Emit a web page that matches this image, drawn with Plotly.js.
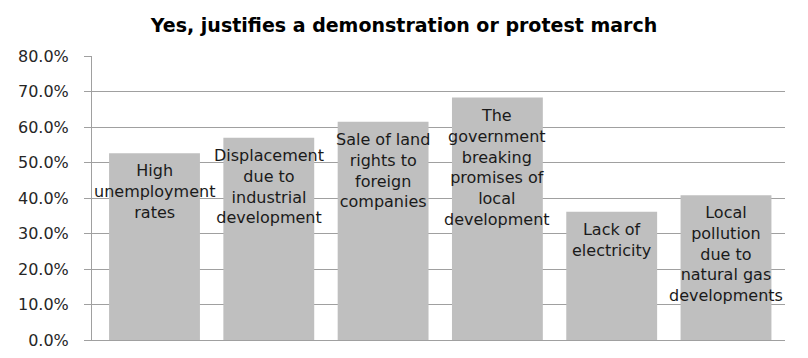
<!DOCTYPE html>
<html>
<head>
<meta charset="utf-8">
<script src="https://cdn.plot.ly/plotly-3.0.1.min.js"></script>
<style>html,body{margin:0;padding:0;background:#fff;}#chart{width:808px;height:358px;}</style>
</head>
<body>
<div id="chart"></div>
<script>
var categories = ["High unemployment rates", "Displacement due to industrial development", "Sale of land rights to foreign companies", "The government breaking promises of local development", "Lack of electricity", "Local pollution due to natural gas developments"];
var labels = ["High<br>unemployment<br>rates", "Displacement<br>due to<br>industrial<br>development", "Sale of land<br>rights to<br>foreign<br>companies", "The<br>government<br>breaking<br>promises of<br>local<br>development", "Lack of<br>electricity", "Local<br>pollution<br>due to<br>natural gas<br>developments"];
var values = [0.526, 0.570, 0.615, 0.683, 0.361, 0.408];
var titleText = "Yes, justifies a demonstration or protest march";

var FONT = "DejaVu Sans";
var annotations = categories.map(function (c, i) {
  return {
    x: c, y: values[i], xref: "x", yref: "y",
    text: labels[i], showarrow: false,
    xanchor: "center", yanchor: "top", yshift: -6,
    font: {family: FONT, size: 16, color: "#1a1a1a"}
  };
});

var data = [{
  type: "bar",
  x: categories,
  y: values,
  marker: {color: "#BFBFBF", line: {width: 0}},
  hoverinfo: "x+y"
}];

var layout = {
  width: 808, height: 358,
  margin: {l: 92, r: 23, t: 56, b: 18, pad: 0},
  paper_bgcolor: "#ffffff", plot_bgcolor: "#ffffff",
  bargap: 0.205,
  showlegend: false,
  title: {
    text: "<b>" + titleText + "</b>",
    font: {family: FONT, size: 19, color: "#000000"},
    x: 0.5, xref: "container", xanchor: "center",
    y: 1 - 25 / 358, yref: "container", yanchor: "middle"
  },
  xaxis: {
    type: "category",
    showticklabels: false,
    ticks: "",
    showgrid: false,
    showline: true, linecolor: "#A0A0A0", linewidth: 1,
    zeroline: false,
    fixedrange: true
  },
  yaxis: {
    range: [0, 0.8],
    dtick: 0.1, tick0: 0,
    tickformat: ".1%",
    ticks: "outside", ticklen: 7, tickcolor: "#A0A0A0", tickwidth: 1,
    ticklabelstandoff: 12,
    showgrid: true, gridcolor: "#A0A0A0", gridwidth: 1,
    showline: true, linecolor: "#A0A0A0", linewidth: 1,
    zeroline: false,
    tickfont: {family: FONT, size: 16, color: "#262626"},
    fixedrange: true
  },
  annotations: annotations
};

Plotly.newPlot("chart", data, layout, {displayModeBar: false, staticPlot: true});
</script>
</body>
</html>
